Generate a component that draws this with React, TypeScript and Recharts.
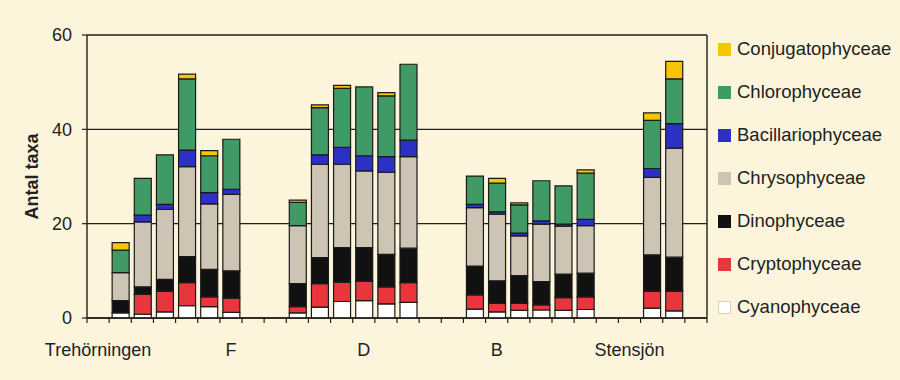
import React from 'react';
import { BarChart, Bar, XAxis, YAxis, CartesianGrid, Label } from 'recharts';

const categories = [
  'Trehörningen', '', '', '', '', '', 'F', '', '', '', '', '', 'D', '', '', '', '', '', 'B', '', '', '', '', '', 'Stensjön', '', '', '',
];

const cyanophyceae = [null, 1.1, 0.8, 1.3, 2.6, 2.4, 1.2, null, null, 1.1, 2.3, 3.5, 3.7, 3.0, 3.3, null, null, 1.9, 1.3, 1.6, 1.7, 1.6, 1.8, null, null, 2.1, 1.5, null];
const cryptophyceae = [null, 0, 4.2, 4.4, 4.9, 2.1, 3.0, null, null, 1.3, 5.0, 4.1, 4.1, 3.6, 4.2, null, null, 3.0, 1.8, 1.5, 1.1, 2.7, 2.7, null, null, 3.6, 4.2, null];
const dinophyceae = [null, 2.6, 1.6, 2.5, 5.5, 5.8, 5.8, null, null, 4.9, 5.5, 7.3, 7.1, 6.9, 7.3, null, null, 6.1, 4.8, 5.9, 4.9, 5.0, 5.0, null, null, 7.7, 7.2, null];
const chrysophyceae = [null, 5.9, 13.8, 14.8, 19.1, 13.9, 16.2, null, null, 12.3, 19.8, 17.7, 16.3, 17.4, 19.4, null, null, 12.4, 14.1, 8.4, 12.2, 10.2, 10.1, null, null, 16.4, 23.1, null];
const bacillariophyceae = [null, 0, 1.4, 1.1, 3.5, 2.4, 1.1, null, null, 0, 2.0, 3.6, 3.2, 3.3, 3.5, null, null, 0.7, 0.5, 0.6, 0.7, 0.4, 1.3, null, null, 1.9, 5.2, null];
const chlorophyceae = [null, 4.8, 7.8, 10.5, 15.1, 7.8, 10.6, null, null, 4.9, 10.0, 12.5, 14.6, 12.9, 16.1, null, null, 6.0, 6.1, 6.0, 8.5, 8.1, 9.8, null, null, 10.2, 9.5, null];
const conjugatophyceae = [null, 1.6, 0, 0, 1.0, 1.1, 0, null, null, 0.5, 0.6, 0.6, 0, 0.7, 0, null, null, 0, 1.0, 0.4, 0, 0, 0.7, null, null, 1.6, 3.7, null];

const yTicks = [0, 20, 40, 60];

const series = [
  { key: 'cyan', name: 'Cyanophyceae', values: cyanophyceae, color: '#ffffff' },
  { key: 'crypt', name: 'Cryptophyceae', values: cryptophyceae, color: '#e8363c' },
  { key: 'dino', name: 'Dinophyceae', values: dinophyceae, color: '#111111' },
  { key: 'chryso', name: 'Chrysophyceae', values: chrysophyceae, color: '#cdc4b4' },
  { key: 'bac', name: 'Bacillariophyceae', values: bacillariophyceae, color: '#2c30c4' },
  { key: 'chl', name: 'Chlorophyceae', values: chlorophyceae, color: '#3f9a66' },
  { key: 'conj', name: 'Conjugatophyceae', values: conjugatophyceae, color: '#f7c600' },
];

const data = categories.map((c, i) => {
  const row: any = { idx: i };
  series.forEach((s) => {
    row[s.key] = s.values[i];
  });
  return row;
});

const W = 900;
const H = 380;
const MARGIN = { top: 35, right: 192, bottom: 0, left: 0 };
const Y_AXIS_W = 87;
const X_AXIS_H = 62;
const PLOT_LEFT = MARGIN.left + Y_AXIS_W;
const PLOT_RIGHT = W - MARGIN.right - 1;
const BAND = (PLOT_RIGHT - PLOT_LEFT) / categories.length;
const TICK_MARGIN = 25;
const BG = '#fcf5dc';
const INK = '#231f1b';
const FONT = '"Liberation Sans", Arial, sans-serif';

const XTick = (props: any) => {
  const { x, y, payload } = props;
  const i = payload.value as number;
  const axisY = y - TICK_MARGIN;
  const lx = x - BAND / 2;
  return (
    <g>
      <line x1={lx} y1={axisY} x2={lx} y2={axisY + 5} stroke={INK} strokeWidth={1.2} />
      {i === categories.length - 1 && (
        <line x1={x + BAND / 2} y1={axisY} x2={x + BAND / 2} y2={axisY + 5} stroke={INK} strokeWidth={1.2} />
      )}
      {categories[i] ? (
        <text x={x} y={y} dy="0.71em" textAnchor="middle" fontSize={18} fill="#222" fontFamily={FONT}>
          {categories[i]}
        </text>
      ) : null}
    </g>
  );
};

const legendItems = [...series].reverse();

export default function App() {
  return (
    <div style={{ position: 'absolute', left: 0, top: 0, width: W, height: H, background: BG, fontFamily: FONT }}>
      <BarChart width={W} height={H} data={data} margin={MARGIN} barSize={17}>
        <CartesianGrid horizontal vertical={false} stroke={INK} strokeWidth={1.4} yAxisId="l" />
        <XAxis
          dataKey="idx"
          type="category"
          interval={0}
          height={X_AXIS_H}
          tickLine={false}
          tickSize={0}
          tickMargin={TICK_MARGIN}
          axisLine={{ stroke: INK, strokeWidth: 1.4 }}
          tick={<XTick />}
        />
        <YAxis
          yAxisId="l"
          domain={[0, 60]}
          ticks={yTicks}
          width={Y_AXIS_W}
          tickSize={5}
          tickMargin={10}
          axisLine={{ stroke: INK, strokeWidth: 1.4 }}
          tickLine={{ stroke: INK, strokeWidth: 1.2 }}
          tick={{ fontSize: 18, fill: '#222', fontFamily: FONT }}
        >
          <Label
            content={(p: any) => {
              const vb = p.viewBox || {};
              const cx = (vb.x ?? 0) + 32;
              const cy = (vb.y ?? 0) + (vb.height ?? 0) / 2;
              return (
                <text
                  x={cx}
                  y={cy}
                  transform={`rotate(-90, ${cx}, ${cy})`}
                  textAnchor="middle"
                  dominantBaseline="central"
                  fontSize={18}
                  fontWeight="bold"
                  fill="#222"
                  fontFamily={FONT}
                >
                  Antal taxa
                </text>
              );
            }}
          />
        </YAxis>
        <YAxis
          yAxisId="r"
          orientation="right"
          domain={[0, 60]}
          width={1}
          tick={false}
          tickLine={false}
          axisLine={{ stroke: INK, strokeWidth: 1.4 }}
        />
        {series.map((s) => (
          <Bar
            key={s.key}
            yAxisId="l"
            dataKey={s.key}
            name={s.name}
            stackId="a"
            fill={s.color}
            stroke="#1a1a1a"
            strokeWidth={1.2}
            isAnimationActive={false}
          />
        ))}
      </BarChart>
      <div style={{ position: 'absolute', left: 718, top: 49, width: 180 }}>
        {legendItems.map((s, i) => (
          <div
            key={s.key}
            style={{ position: 'absolute', left: 0, top: i * 43 - 10, height: 20, display: 'flex', alignItems: 'center', whiteSpace: 'nowrap' }}
          >
            <div
              style={{
                width: 13,
                height: 13,
                background: s.color,
                border: s.key === 'cyan' ? '1px solid #d8d2c4' : 'none',
                boxSizing: 'border-box',
                marginRight: 6,
              }}
            />
            <span style={{ fontSize: 18.5, color: '#222', lineHeight: '20px' }}>{s.name}</span>
          </div>
        ))}
      </div>
    </div>
  );
}
